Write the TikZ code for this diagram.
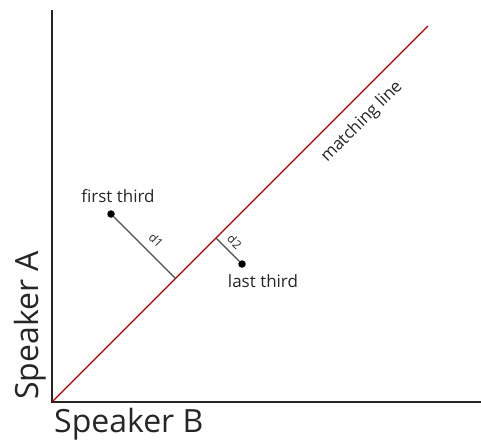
\documentclass[tikz,border=0pt]{standalone}
\usepackage{fontspec}
\setmainfont{Open Sans}
\usepackage{tikz}
\usetikzlibrary{positioning,calc}

\begin{document}
\begin{tikzpicture}[
  x=1pt, y=-1pt,
  axis/.style={draw=black!85, line width=1.6pt},
  match/.style={draw=red!70!black, line width=1.3pt},
  dist/.style={draw=black!70, line width=1.2pt},
  pt/.style={circle, fill=black, inner sep=0pt, minimum size=7.5pt},
  lbl/.style={font=\fontsize{17}{20}\selectfont, text=black!85, inner sep=0pt},
  dlbl/.style={font=\fontsize{12}{14}\selectfont, text=black!85},
  axlbl/.style={font=\fontsize{32}{36}\selectfont, text=black!85, inner sep=0pt}
]
\useasboundingbox (0,0) rectangle (481,439);
% axes
\coordinate (origin) at (52,402);
\coordinate (ytop) at (52,10);
\coordinate (xend) at (481,402);
\draw[axis] (ytop) -- (origin) -- (xend);
\node[axlbl, anchor=base west] (xlab) at (54,432) {Speaker B};
\node[axlbl, rotate=90, anchor=base west] (ylab) at (38,400) {Speaker A};
% matching line
\coordinate (mend) at (428,26);
\draw[match] (origin) -- (mend);
\node[lbl, rotate=45] (mlab) at (362,122) {matching line};
% thirds
\node[pt] (first) at (111,214) {};
\node[pt] (last) at (242,264) {};
\coordinate (foot1) at (175.5,278.5);
\coordinate (foot2) at (216,238);
\draw[dist] (first) -- (foot1) node[dlbl, pos=0.53, above=5pt, sloped] (d1) {d1};
\draw[dist] (foot2) -- (last) node[dlbl, pos=0.48, above=2pt, sloped] (d2) {d2};
\node[lbl, above=7pt of first, xshift=7pt] (flab) {first third};
\node[lbl, below=6pt of last, xshift=21pt] (llab) {last third};
\end{tikzpicture}
\end{document}
